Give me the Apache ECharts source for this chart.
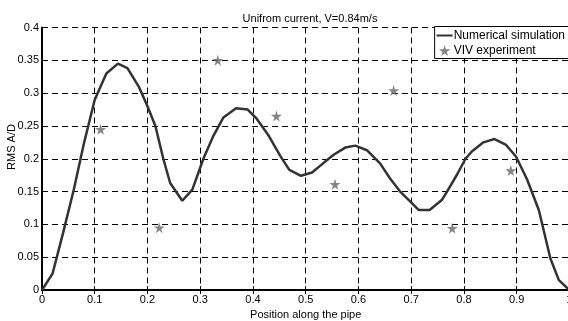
<!DOCTYPE html>
<html>
<head>
<meta charset="utf-8">
<script src="https://cdn.jsdelivr.net/npm/echarts@6/dist/echarts.min.js"></script>
<style>
  html, body { margin: 0; padding: 0; background: #fff; }
  #chart { width: 568px; height: 321px; }
</style>
</head>
<body>
<div id="chart"></div>
<script>
// Numerical simulation: RMS A/D along the pipe
const simPosition = [0, 0.02, 0.04, 0.06, 0.08, 0.10, 0.122, 0.144, 0.162, 0.184, 0.20, 0.215, 0.23, 0.243,
  0.266, 0.285, 0.306, 0.325, 0.344, 0.368, 0.39, 0.407, 0.43, 0.452, 0.469, 0.491, 0.512, 0.533, 0.553,
  0.575, 0.594, 0.616, 0.641, 0.66, 0.679, 0.698, 0.714, 0.735, 0.758, 0.768, 0.787, 0.803, 0.815, 0.837,
  0.858, 0.88, 0.899, 0.92, 0.942, 0.964, 0.98, 1.0];
const simRms = [0, 0.025, 0.087, 0.152, 0.225, 0.29, 0.33, 0.345, 0.338, 0.309, 0.28, 0.25, 0.2, 0.163,
  0.136, 0.153, 0.2, 0.235, 0.263, 0.277, 0.275, 0.261, 0.235, 0.204, 0.183, 0.174, 0.179, 0.193, 0.206,
  0.217, 0.22, 0.213, 0.193, 0.17, 0.15, 0.135, 0.122, 0.122, 0.137, 0.15, 0.176, 0.2, 0.211, 0.225,
  0.23, 0.221, 0.203, 0.168, 0.122, 0.048, 0.015, 0];

// VIV experiment measurements
const expPosition = [1/9, 2/9, 3/9, 4/9, 5/9, 6/9, 7/9, 8/9];
const expRms = [0.245, 0.095, 0.35, 0.265, 0.161, 0.304, 0.094, 0.182];

// Axis ticks
const xTicks = [0, 0.1, 0.2, 0.3, 0.4, 0.5, 0.6, 0.7, 0.8, 0.9, 1];
const yTicks = [0, 0.05, 0.1, 0.15, 0.2, 0.25, 0.3, 0.35, 0.4];

const FONT = 'Liberation Sans, Arial, sans-serif';
const STAR = 'path://M50,0 L61,35 L98,35 L68,57 L79,91 L50,70 L21,91 L32,57 L2,35 L39,35 Z';
const LINE_ICON = 'path://M0,0 L16,0 L16,2 L0,2 Z';

const simData = simPosition.map((x, i) => [x, simRms[i]]);
const expData = expPosition.map((x, i) => [x, expRms[i]]);

const dashed = { show: true, lineStyle: { color: '#000', width: 1, type: [6, 4] } };

const chart = echarts.init(document.getElementById('chart'), null, { renderer: 'canvas' });
chart.setOption({
  animation: false,
  backgroundColor: '#fff',
  title: {
    text: 'Unifrom current, V=0.84m/s',
    left: 305, top: 8, textAlign: 'center',
    textStyle: { fontFamily: FONT, fontSize: 11, fontWeight: 'normal', color: '#000' }
  },
  // vertical axis title
  graphic: [{
    type: 'text', x: 11.5, y: 147, rotation: Math.PI / 2,
    style: { text: 'RMS A/D', fontFamily: FONT, fontSize: 11, fill: '#000', align: 'center', verticalAlign: 'middle' }
  }],
  grid: { left: 42, right: -1.4, top: 27.5, bottom: 31, containLabel: false, outerBoundsMode: 'none' },
  legend: {
    right: -1, top: 26.5,
    orient: 'vertical',
    backgroundColor: '#fff',
    borderColor: '#000', borderWidth: 1, borderRadius: 0,
    padding: [3, 4, 2, 2],
    itemGap: 3, itemWidth: 16, itemHeight: 11,
    textStyle: { fontFamily: FONT, fontSize: 12, color: '#000', padding: [0, 0, 0, -4] },
    data: [
      { name: 'Numerical simulation', icon: LINE_ICON, itemStyle: { color: '#333' } },
      { name: 'VIV experiment', icon: STAR, itemStyle: { color: '#666' } }
    ]
  },
  xAxis: [{
    type: 'value', min: 0, max: 1, interval: 0.1,
    name: 'Position along the pipe', nameLocation: 'middle', nameGap: 16,
    nameTextStyle: { fontFamily: FONT, fontSize: 11, color: '#000' },
    axisLine: { show: true, onZero: false, lineStyle: { color: '#000', width: 2 } },
    axisTick: { show: true, inside: true, length: 4, lineStyle: { color: '#000' } },
    axisLabel: { fontFamily: FONT, fontSize: 11, color: '#000', margin: 4,
      formatter: v => xTicks.includes(Math.round(v * 10) / 10) ? String(Math.round(v * 10) / 10) : '' },
    splitLine: dashed
  }, {
    type: 'value', position: 'top', min: 0, max: 1, interval: 0.1,
    axisLine: { show: true, lineStyle: { color: '#000', width: 1.5 } },
    axisTick: { show: true, inside: true, length: 4, lineStyle: { color: '#000' } },
    axisLabel: { show: false }, splitLine: { show: false }
  }],
  yAxis: {
    type: 'value', min: 0, max: 0.4, interval: 0.05,
    axisLine: { show: true, onZero: false, lineStyle: { color: '#000', width: 2 } },
    axisTick: { show: true, inside: true, length: 4, lineStyle: { color: '#000' } },
    axisLabel: { fontFamily: FONT, fontSize: 11, color: '#000', margin: 3,
      formatter: v => {
        const r = Math.round(v * 100) / 100;
        return yTicks.includes(r) ? String(r) : '';
      } },
    splitLine: dashed
  },
  series: [{
    name: 'Numerical simulation',
    type: 'line', data: simData, smooth: false,
    symbol: 'none', clip: true,
    lineStyle: { color: '#333', width: 2.5 },
    itemStyle: { color: '#333' },
    z: 3
  }, {
    name: 'VIV experiment',
    type: 'scatter', data: expData,
    symbol: STAR, symbolSize: 11,
    itemStyle: { color: '#666' },
    z: 4
  }]
});
</script>
</body>
</html>
